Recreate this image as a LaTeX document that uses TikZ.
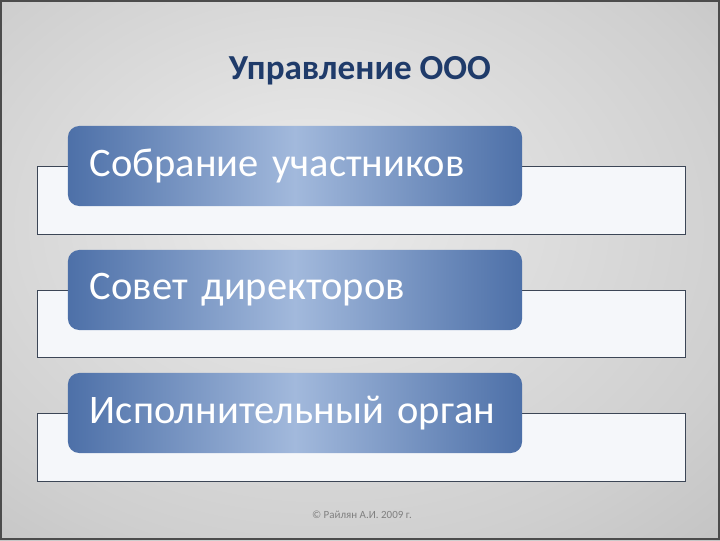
\documentclass[tikz,border=0pt]{standalone}
\usepackage{fontspec}
\setmainfont{Carlito}
\usepackage{xcolor}
\usepackage{tikz}
\usetikzlibrary{shapes,positioning}

\definecolor{titleblue}{HTML}{1F3B6A}
\definecolor{boxdark}{HTML}{4D70A8}
\definecolor{boxlight}{HTML}{A2B9DC}
\definecolor{frameline}{HTML}{3C4656}
\definecolor{whitebox}{HTML}{F5F7FA}
\definecolor{bginner}{HTML}{ECECEC}
\definecolor{bgmid}{HTML}{CFCFCF}
\definecolor{bgouter}{HTML}{9A9A9A}

\pgfdeclareradialshading{slidebg}{\pgfpoint{-4bp}{6bp}}{%
  color(0bp)=(bginner); color(30bp)=(bgmid); color(72bp)=(bgouter)}

\tikzset{
  levelframe/.style={draw=frameline, line width=0.7pt, fill=whitebox},
  levelbox/.style={rounded corners=8pt, left color=boxdark, right color=boxdark,
    middle color=boxlight, minimum width=11.35cm, minimum height=2cm,
    text width=10.25cm, inner xsep=0.55cm, inner ysep=0pt, align=left,
    text=white, font=\fontsize{28.8}{32}\selectfont}
}

\begin{document}
\begin{tikzpicture}[x=0.025cm,y=-0.025cm]
                \useasboundingbox (0,0) rectangle (720,540);
                \shade[shading=slidebg] (0,0) rectangle (720,540);
                \draw[line width=1.4pt, color=black!70] (0.7,0.7) rectangle (719.3,539.3);

                \node[text=titleblue, font=\fontsize{25}{30}\selectfont\bfseries]
                    (title) at (360,71) {Управление ООО};

                % Собрание участников
                \draw[levelframe] (37,166) rectangle (685,234);
                \node[levelbox] (sobranie) at (295,166) {Собрание участников};

                % Совет директоров
                \draw[levelframe] (37,290) rectangle (685,357);
                \node[levelbox] (sovet) at (295,290) {Совет директоров};

                % Исполнительный орган
                \draw[levelframe] (37,413) rectangle (685,481);
                \node[levelbox] (ispoln) at (295,413) {Исполнительный орган};

                \node[text=black!50, font=\fontsize{7.8}{9}\selectfont]
                    (copyright) at (362,515) {© Райлян А.И. 2009 г.};
            \end{tikzpicture}
\end{document}
